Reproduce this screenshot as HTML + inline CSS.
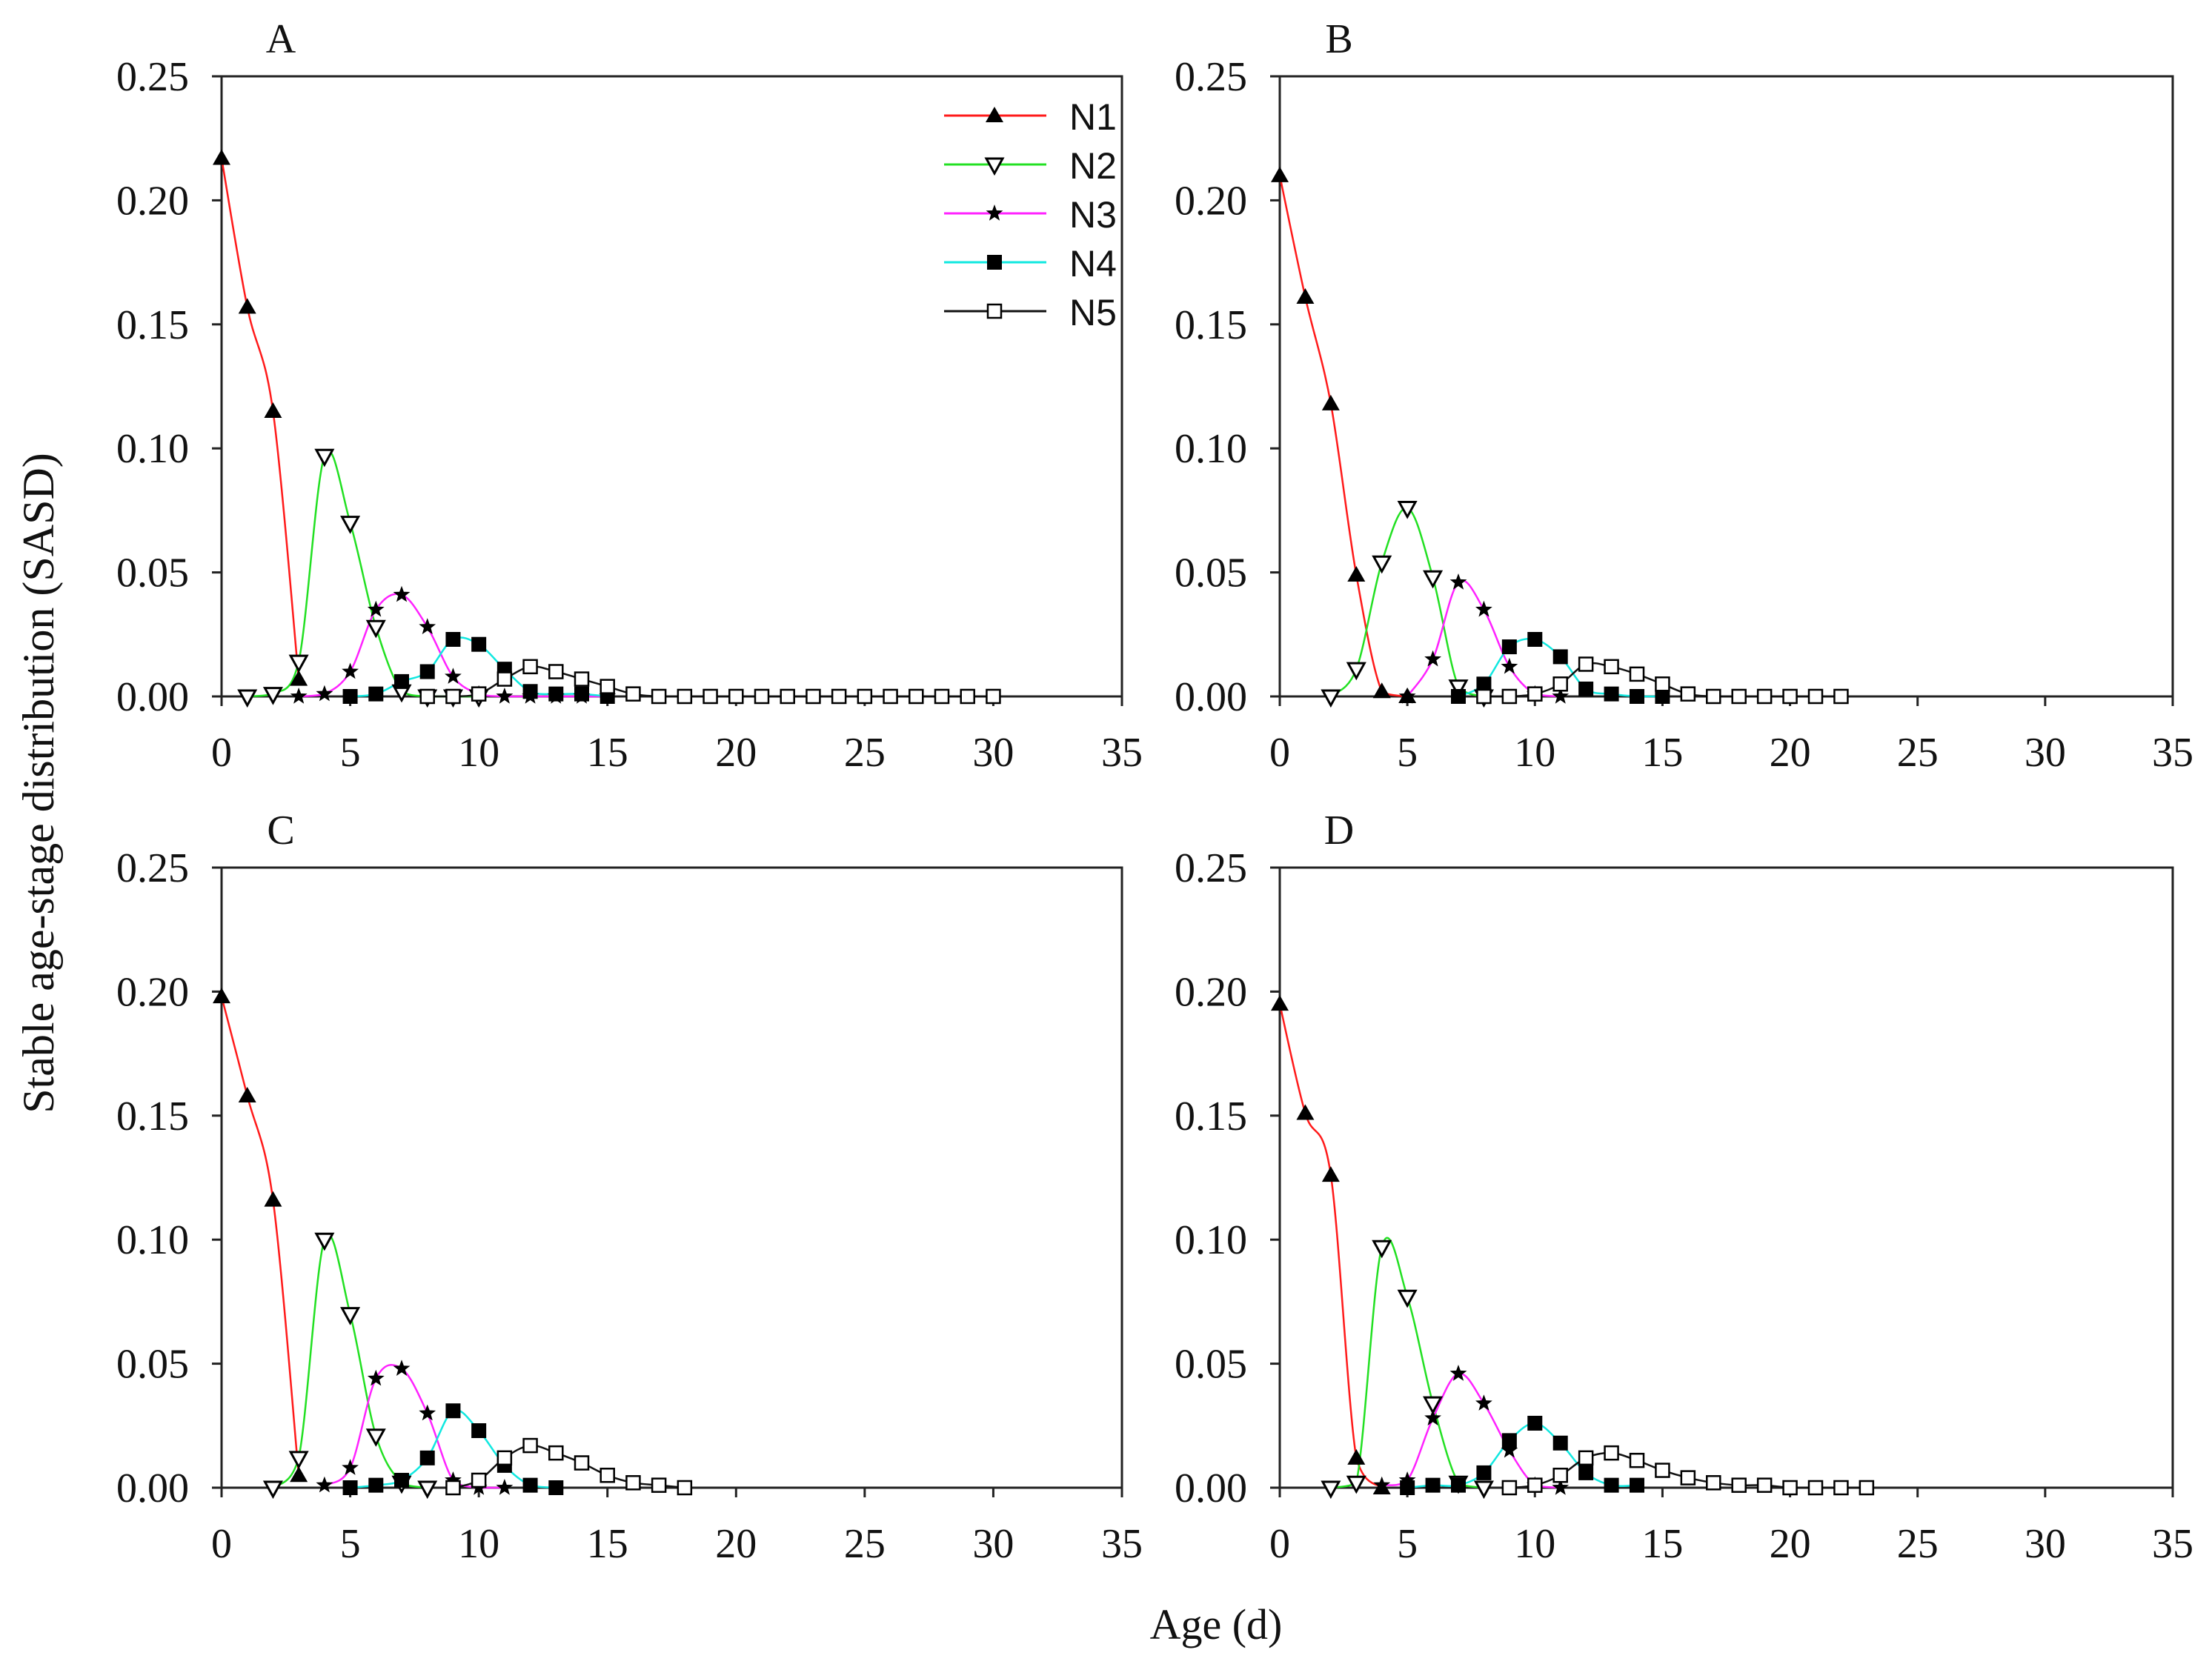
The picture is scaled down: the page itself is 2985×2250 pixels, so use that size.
<!DOCTYPE html>
<html><head><meta charset="utf-8">
<style>
html,body{margin:0;padding:0;background:#fff;}
svg{display:block;}
text{font-family:"Liberation Serif",serif;fill:#111;}
.leg{font-family:"Liberation Sans",sans-serif;}
</style></head>
<body>
<svg id="fig" width="2985" height="2250" viewBox="0 0 2985 2250" xmlns="http://www.w3.org/2000/svg">
<text x="72" y="1057" font-size="60" text-anchor="middle" transform="rotate(-90 72 1057)">Stable age-stage distribution (SASD)</text>
<text x="1641" y="2212" font-size="58" text-anchor="middle">Age (d)</text>
</svg>
<script>
// ---- data (start age + values per stage) ----
const xTicks = [0,5,10,15,20,25,30,35];
const yTicks = [0,0.05,0.10,0.15,0.20,0.25];
const yTickLabels = ["0.00","0.05","0.10","0.15","0.20","0.25"];
const stages = ["N1","N2","N3","N4","N5"];

const A_start = [0,1,3,5,8];
const A_N1 = [0.217,0.157,0.115,0.007];
const A_N2 = [0,0.001,0.014,0.097,0.070,0.028,0.002,0,0,0];
const A_N3 = [0,0.001,0.010,0.035,0.041,0.028,0.008,0.001,0,0,0,0,0];
const A_N4 = [0,0.001,0.006,0.010,0.023,0.021,0.011,0.002,0.001,0.001,0];
const A_N5 = [0,0,0.001,0.007,0.012,0.010,0.007,0.004,0.001,0,0,0,0,0,0,0,0,0,0,0,0,0,0];

const B_start = [0,2,5,7,8];
const B_N1 = [0.210,0.161,0.118,0.049,0.002,0];
const B_N2 = [0,0.011,0.054,0.076,0.048,0.004,0];
const B_N3 = [0,0.015,0.046,0.035,0.012,0.001,0];
const B_N4 = [0,0.005,0.020,0.023,0.016,0.003,0.001,0,0];
const B_N5 = [0,0,0.001,0.005,0.013,0.012,0.009,0.005,0.001,0,0,0,0,0,0];

const C_start = [0,2,4,5,9];
const C_N1 = [0.198,0.158,0.116,0.005];
const C_N2 = [0,0.012,0.100,0.070,0.021,0.002,0];
const C_N3 = [0.001,0.008,0.044,0.048,0.030,0.003,0,0];
const C_N4 = [0,0.001,0.003,0.012,0.031,0.023,0.009,0.001,0];
const C_N5 = [0,0.003,0.012,0.017,0.014,0.010,0.005,0.002,0.001,0];

const D_start = [0,2,4,5,9];
const D_N1 = [0.195,0.151,0.126,0.012,0];
const D_N2 = [0,0.002,0.097,0.077,0.034,0.002,0];
const D_N3 = [0.001,0.003,0.028,0.046,0.034,0.015,0.001,0];
const D_N4 = [0,0.001,0.001,0.006,0.019,0.026,0.018,0.006,0.001,0.001];
const D_N5 = [0,0.001,0.005,0.012,0.014,0.011,0.007,0.004,0.002,0.001,0.001,0,0,0,0];

const panelLetters = ["A","B","C","D"];

// ---- rendering ----
const NS = "http://www.w3.org/2000/svg";
const svg = document.getElementById("fig");
const colors = ["#ff1a1a","#22e022","#ff22ff","#11e8e0","#111"];
const panels = [
  {L:299,R:1514,T:103,B:940,start:A_start,series:[A_N1,A_N2,A_N3,A_N4,A_N5]},
  {L:1727,R:2932,T:103,B:940,start:B_start,series:[B_N1,B_N2,B_N3,B_N4,B_N5]},
  {L:299,R:1514,T:1171,B:2008,start:C_start,series:[C_N1,C_N2,C_N3,C_N4,C_N5]},
  {L:1727,R:2932,T:1171,B:2008,start:D_start,series:[D_N1,D_N2,D_N3,D_N4,D_N5]}
];
function mk(tag, attrs, parent){
  const e = document.createElementNS(NS, tag);
  for (const k in attrs) e.setAttribute(k, attrs[k]);
  (parent||svg).appendChild(e);
  return e;
}
function marker(g, k, x, y){
  let m;
  if (k===0){
    m = mk("polygon",{points:`${x},${y-12} ${x-12},${y+9} ${x+12},${y+9}`,fill:"#000"},g);
  } else if (k===1){
    m = mk("polygon",{points:`${x-11},${y-8} ${x+11},${y-8} ${x},${y+12}`,fill:"#fff",stroke:"#000","stroke-width":3},g);
  } else if (k===2){
    let p=[];
    for(let i=0;i<10;i++){const r=i%2?5:12;const a=-Math.PI/2+i*Math.PI/5;p.push((x+r*Math.cos(a)).toFixed(1)+","+(y+r*Math.sin(a)).toFixed(1));}
    m = mk("polygon",{points:p.join(" "),fill:"#000"},g);
  } else if (k===3){
    m = mk("rect",{x:x-10,y:y-10,width:20,height:20,fill:"#000"},g);
  } else {
    m = mk("rect",{x:x-9,y:y-9,width:18,height:18,fill:"#fff",stroke:"#000","stroke-width":2.5},g);
  }
  
  
}
function spline(pts, yMax){
  let d = `M${pts[0][0]},${pts[0][1]}`;
  for(let i=0;i<pts.length-1;i++){
    const p0=pts[Math.max(i-1,0)],p1=pts[i],p2=pts[i+1],p3=pts[Math.min(i+2,pts.length-1)];
    const c1=[p1[0]+(p2[0]-p0[0])/6,Math.min(yMax,p1[1]+(p2[1]-p0[1])/6)];
    const c2=[p2[0]-(p3[0]-p1[0])/6,Math.min(yMax,p2[1]-(p3[1]-p1[1])/6)];
    d+=` C${c1[0].toFixed(1)},${c1[1].toFixed(1)} ${c2[0].toFixed(1)},${c2[1].toFixed(1)} ${p2[0].toFixed(1)},${p2[1].toFixed(1)}`;
  }
  return d;
}
panels.forEach((p,pi)=>{
  const g = mk("g",{});
  
  
  const xs = v => p.L + (v/35)*(p.R-p.L);
  const ys = v => p.B - (v/0.25)*(p.B-p.T);
  const frame = mk("path",{d:`M${p.L},${p.T} H${p.R} V${p.B} H${p.L} Z`,fill:"none",stroke:"#222","stroke-width":3},g);
  
  
  xTicks.forEach(t=>{
    const x = xs(t);
    mk("line",{x1:x,y1:p.B,x2:x,y2:p.B+13,stroke:"#222","stroke-width":3},g);
    const tl = mk("text",{x:x,y:p.B+94,"font-size":56,"text-anchor":"middle"},g);
    tl.textContent = t;
    
    
  });
  yTicks.forEach((t,i)=>{
    const y = ys(t);
    mk("line",{x1:p.L-13,y1:y,x2:p.L,y2:y,stroke:"#222","stroke-width":3},g);
    const tl = mk("text",{x:p.L-44,y:y+19,"font-size":56,"text-anchor":"end"},g);
    tl.textContent = yTickLabels[i];
    
    
  });
  const lt = mk("text",{x:p.L+80,y:p.T-32,"font-size":56,"text-anchor":"middle"},g);
  lt.textContent = panelLetters[pi];
  
  
  p.series.forEach((vals,k)=>{
    const pts = vals.map((v,i)=>[xs(p.start[k]+i), ys(v)]);
    const ln = mk("path",{d:spline(pts, ys(0)),fill:"none",stroke:colors[k],"stroke-width":2.5},g);
    
    
  });
  p.series.forEach((vals,k)=>{
    vals.forEach((v,i)=>marker(g,k,xs(p.start[k]+i),ys(v)));
  });
});
// legend in panel A
const lg = mk("g",{});


stages.forEach((s,k)=>{
  const y = 156 + k*66;
  const ln = mk("line",{x1:1274,y1:y,x2:1412,y2:y,stroke:colors[k],"stroke-width":3},lg);
  
  
  marker(lg,k,1342,y);
  const t = mk("text",{x:1443,y:y+19,"font-size":50,class:"leg"},lg);
  t.textContent = s;
  
  
});
</script>
</body></html>
